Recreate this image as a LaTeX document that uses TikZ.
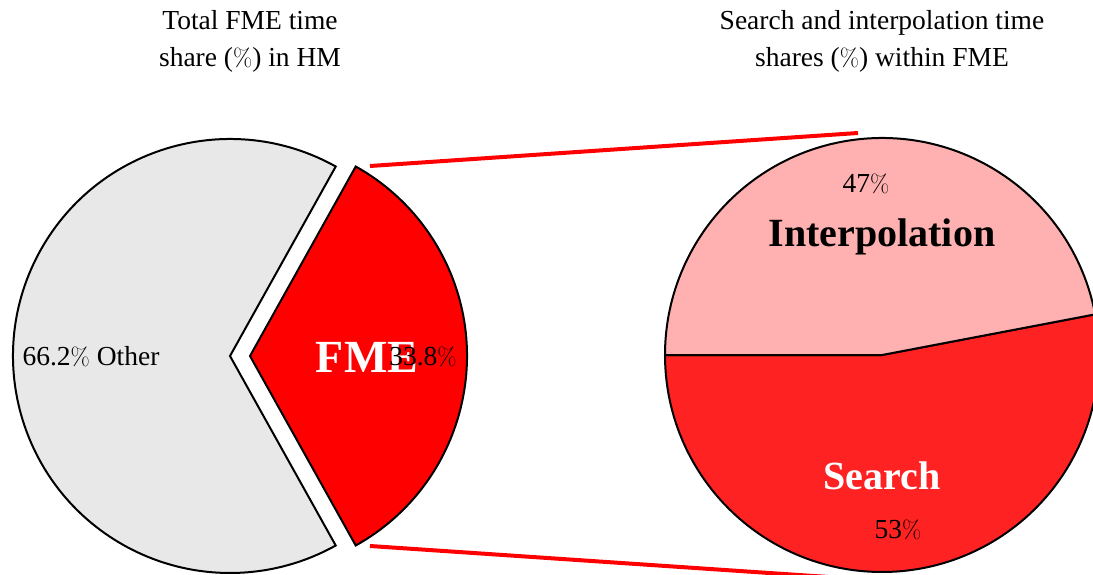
\documentclass[tikz,border=0pt]{standalone}
\usepackage[no-math]{fontspec}
\setmainfont{Liberation Serif}
\definecolor{otherfill}{RGB}{232,232,232}
\definecolor{fmefill}{RGB}{255,0,0}
\definecolor{interpfill}{RGB}{255,176,176}
\definecolor{searchfill}{RGB}{255,34,34}
\newcommand{\pct}{$\%$}
\begin{document}
\begin{tikzpicture}[x=1pt,y=1pt,
  slice/.style={draw=black,line width=2pt,line join=miter},
  txt/.style={font=\fontsize{27.5}{37}\selectfont,inner sep=0pt},
  title/.style={txt,align=center},
  bigw/.style={font=\fontsize{40}{48}\selectfont\bfseries,text=white,inner sep=0pt},
  bigk/.style={font=\fontsize{40}{48}\selectfont\bfseries,text=black,inner sep=0pt},
  zoomline/.style={draw=red,line width=4pt}]
\useasboundingbox (0,0) rectangle (1093,574);

% left pie: Other and the pulled-out FME slice
\coordinate (lc) at (230,218);
\coordinate (fc) at (250,218);
\fill[otherfill] (lc) -- ++(60.84:217) arc[start angle=60.84,end angle=299.16,radius=217] -- cycle;
\draw[slice] (lc) -- ++(60.84:217) arc[start angle=60.84,end angle=299.16,radius=217] -- cycle;
\filldraw[slice,fill=fmefill] (fc) -- ++(-60.84:217) arc[start angle=-60.84,end angle=60.84,radius=217] -- cycle;

% right pie: Search and Interpolation
\coordinate (rc) at (882,219);
\filldraw[slice,fill=searchfill] (rc) -- ++(180:217) arc[start angle=180,end angle=370.8,radius=217] -- cycle;
\filldraw[slice,fill=interpfill] (rc) -- ++(10.8:217) arc[start angle=10.8,end angle=180,radius=217] -- cycle;

% zoom connectors
\coordinate (ztl) at (370,408);
\coordinate (ztr) at (858,441);
\coordinate (zbl) at (370,28);
\coordinate (zbr) at (858,-5);
\draw[zoomline] (ztl) -- (ztr);
\draw[zoomline] (zbl) -- (zbr);

% labels
\node[txt] (other) at (91,217) {66.2\pct{} Other};
\node[bigw,font=\fontsize{46}{52}\selectfont\bfseries] (fme) at (367,217) {FME};
\node[txt] (fmepct) at (423,217) {33.8\pct};
\node[txt] (ipct) at (866,390) {47\pct};
\node[bigk] (interp) at (882,337) {Interpolation};
\node[bigw] (search) at (882,98) {Search};
\node[txt] (spct) at (898,44) {53\pct};

% titles
\node[title] (ltitle) at (250,533) {Total FME time\\share (\pct) in HM};
\node[title] (rtitle) at (882,533) {Search and interpolation time\\shares (\pct) within FME};
\end{tikzpicture}
\end{document}
